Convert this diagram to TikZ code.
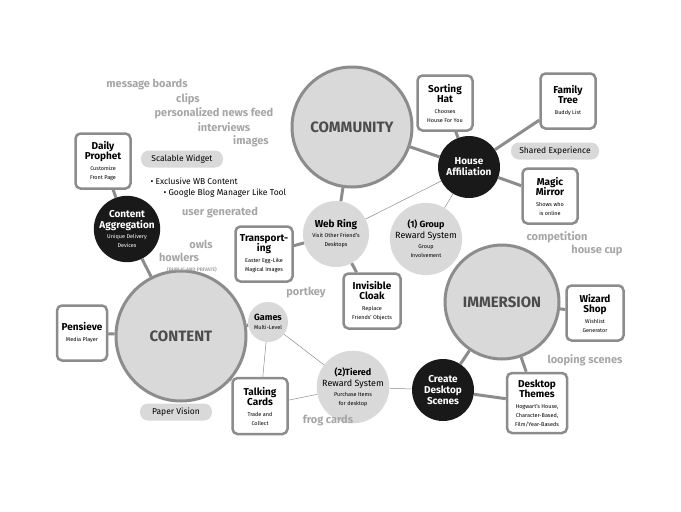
\documentclass[tikz,border=0pt]{standalone}
\usepackage{fontspec}
\setmainfont{Fira Sans}
\usetikzlibrary{positioning}
\definecolor{rim}{gray}{0.55}
\definecolor{fillgrey}{gray}{0.85}
\definecolor{wordgrey}{gray}{0.65}
\newcommand*{\ttl}[1]{{\fontsize{10}{10.5}\selectfont\bfseries #1}}
\newcommand*{\sub}[1]{{\fontsize{5.5}{6.5}\selectfont #1}}
\tikzset{
  hub/.style={circle,draw=rim,line width=3pt,fill=fillgrey,minimum size=#1,inner sep=0pt,
    font=\fontsize{15}{15}\selectfont\bfseries,text=black!70},
  blackhub/.style={circle,fill=black!90,text=white,minimum size=62pt,inner sep=0pt,align=center},
  greyhub/.style={circle,fill=fillgrey,minimum size=#1,inner sep=0pt,align=center},
  card/.style={draw=rim,line width=2.5pt,rounded corners=5pt,fill=white,
    minimum width=#1,minimum height=55pt,inner sep=1pt,align=center},
  pill/.style={fill=fillgrey,rounded corners=8pt,minimum height=17pt,minimum width=#1,
    font=\fontsize{8.5}{9}\selectfont},
  word/.style={text=wordgrey,font=\fontsize{11}{11}\selectfont\bfseries},
  thick link/.style={draw=rim,line width=3pt},
  thin link/.style={draw=rim,line width=0.5pt}
}
\begin{document}
\begin{tikzpicture}[x=1pt,y=-1pt]
\useasboundingbox (0,0) rectangle (681,512);
% main circles
\node[hub=120pt] (community) at (352,127) {COMMUNITY};
\node[hub=114pt] (immersion) at (502,302) {IMMERSION};
\node[hub=130pt] (content) at (181,336) {CONTENT};
% dark hubs
\node[blackhub] (house) at (469,167) {\ttl{House}\\[-1pt]\ttl{Affiliation}};
\node[blackhub] (aggr) at (127,229) {\ttl{Content}\\[-1pt]\ttl{Aggregation}\\[-2pt]\sub{Unique Delivery}\\[-3pt]\sub{Devices}};
\node[blackhub] (scenes) at (443,390) {\ttl{Create}\\[-1pt]\ttl{Desktop}\\[-1pt]\ttl{Scenes}};
% grey hubs
\node[greyhub=66pt] (webring) at (336,234) {\ttl{Web Ring}\\[-2pt]\sub{Visit Other Friend's}\\[-3pt]\sub{Desktops}};
\node[greyhub=66pt] (group) at (426,239) {{\fontsize{9}{9}\selectfont\bfseries (1) Group}\\[-1pt]{\fontsize{9}{9}\selectfont Reward System}\\[-2pt]\sub{Group}\\[-3pt]\sub{Involvement}};
\node[greyhub=40pt] (games) at (268,322) {{\fontsize{9}{9}\selectfont\bfseries Games}\\[-3pt]\sub{Multi-Level}};
\node[greyhub=64pt] (tiered) at (353,387) {{\fontsize{9}{9}\selectfont\bfseries (2)Tiered}\\[-1pt]{\fontsize{9}{9}\selectfont Reward System}\\[-2pt]\sub{Purchase Items}\\[-3pt]\sub{for desktop}};
% cards
\node[card=55pt] (prophet) at (103,161) {\ttl{Daily}\\[-2pt]\ttl{Prophet}\\[-1pt]\sub{Customize}\\[-3pt]\sub{Front Page}};
\node[card=55pt] (hat) at (445,103) {\ttl{Sorting}\\[-2pt]\ttl{Hat}\\[-1pt]\sub{Chooses}\\[-3pt]\sub{House For You}};
\node[card=55pt] (family) at (568,101) {\ttl{Family}\\[-2pt]\ttl{Tree}\\[-1pt]\sub{Buddy List}};
\node[card=55pt] (mirror) at (550,196) {\ttl{Magic}\\[-2pt]\ttl{Mirror}\\[-1pt]\sub{Shows who}\\[-3pt]\sub{is online}};
\node[card=57pt] (transport) at (264,254) {\ttl{Transport-}\\[-2pt]\ttl{ing}\\[-1pt]\sub{Easter Egg-Like}\\[-3pt]\sub{Magical Images}};
\node[card=57pt] (cloak) at (372,301) {\ttl{Invisible}\\[-2pt]\ttl{Cloak}\\[-1pt]\sub{Replace}\\[-3pt]\sub{Friends' Objects}};
\node[card=57pt] (shop) at (595,313) {\ttl{Wizard}\\[-2pt]\ttl{Shop}\\[-1pt]\sub{Wishlist}\\[-3pt]\sub{Generator}};
\node[card=50pt] (pensieve) at (82,333) {\ttl{Pensieve}\\[-1pt]\sub{Media Player}};
\node[card=55pt,minimum height=56pt] (cards) at (260,406) {\ttl{Talking}\\[-2pt]\ttl{Cards}\\[-1pt]\sub{Trade and}\\[-3pt]\sub{Collect}};
\node[card=60pt,minimum height=60pt] (themes) at (537,403) {\ttl{Desktop}\\[-2pt]\ttl{Themes}\\[-1pt]\sub{Hogwart's House,}\\[-3pt]\sub{Character-Based,}\\[-3pt]\sub{Film/Year-Baseds}};
% pills
\node[pill=82pt] (widget) at (182,159) {Scalable Widget};
\node[pill=88pt] (shared) at (555,151) {Shared Experience};
\node[pill=72pt] (paper) at (176,412) {Paper Vision};
% bullets
\node[anchor=west,font=\fontsize{8.5}{9}\selectfont] (wb) at (147,181) {\textbullet\ Exclusive WB Content};
\node[anchor=west,font=\fontsize{8.5}{9}\selectfont] (blog) at (160,193) {\textbullet\ Google Blog Manager Like Tool};
% floating words
\node[word] (boards) at (147,85) {message boards};
\node[word] (clips) at (188,99) {clips};
\node[word] (feed) at (214,113) {personalized news feed};
\node[word] (interviews) at (224,127) {interviews};
\node[word] (images) at (251,141) {images};
\node[word] (usergen) at (220,213) {user generated};
\node[word] (owls) at (201,244) {owls};
\node[word] (howlers) at (179,257) {howlers};
\node[text=wordgrey,font=\fontsize{5}{5}\selectfont\bfseries] (public) at (192,270) {(PUBLIC AND PRIVATE)};
\node[word] (portkey) at (306,293) {portkey};
\node[word] (competition) at (557,237) {competition};
\node[word] (housecup) at (597,251) {house cup};
\node[word] (looping) at (585,360) {looping scenes};
\node[word] (frog) at (328,421) {frog cards};
% connectors
\path[thick link] (prophet) -- (aggr) (aggr) -- (content) (pensieve) -- (content)
  (content) -- (games) (content) -- (cards) (transport) -- (webring)
  (webring) -- (community) (webring) -- (cloak) (community) -- (house)
  (hat) -- (house) (family) -- (house) (mirror) -- (house)
  (immersion) -- (shop) (immersion) -- (scenes) (immersion) -- (themes)
  (scenes) -- (themes);
\path[thin link] (webring) -- (house) (group) -- (house) (games) -- (cards)
  (games) -- (tiered) (cards) -- (tiered) (tiered) -- (scenes);
\end{tikzpicture}
\end{document}
